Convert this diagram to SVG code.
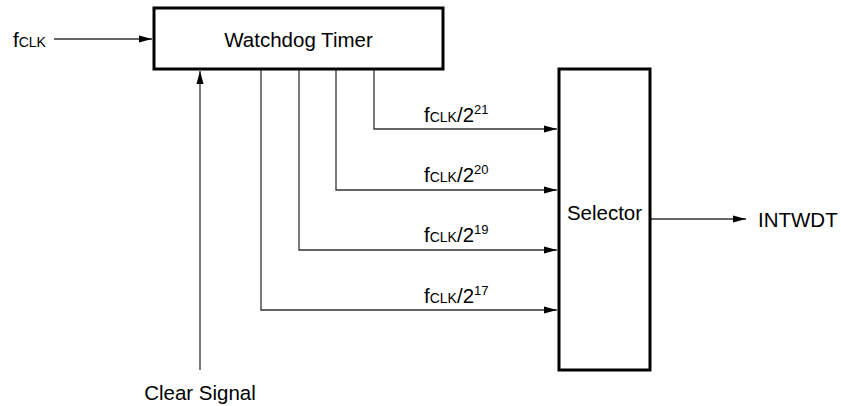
<svg xmlns="http://www.w3.org/2000/svg" width="841" height="406" viewBox="0 0 841 406">
<style>
.box{fill:#fff;stroke:#000;stroke-width:3}
.ln{fill:none;stroke:#333;stroke-width:1.3}
text{font-family:"Liberation Sans",Arial,sans-serif;font-size:20.5px;fill:#000}
.sub{font-size:14px}
.sup{font-size:13px}
</style>
<defs>
<marker id="ah" markerWidth="13" markerHeight="8" refX="13" refY="4" orient="auto" markerUnits="userSpaceOnUse">
<path d="M0,0.5 L13,4 L0,7.5 Z" fill="#000"/>
</marker>
</defs>
<g id="connectors">
<path class="ln" d="M54,39 H152" marker-end="url(#ah)"/>
<path class="ln" d="M200,370 V71" marker-end="url(#ah)"/>
<path class="ln" d="M374,70 V129 H557" marker-end="url(#ah)"/>
<path class="ln" d="M336,70 V190 H557" marker-end="url(#ah)"/>
<path class="ln" d="M299,70 V250 H557" marker-end="url(#ah)"/>
<path class="ln" d="M261,70 V310 H557" marker-end="url(#ah)"/>
<path class="ln" d="M651,219 H746" marker-end="url(#ah)"/>
</g>
<g id="watchdog">
<rect class="box" x="154" y="8" width="289" height="61"/>
<text x="298.5" y="47" text-anchor="middle">Watchdog Timer</text>
</g>
<g id="selector">
<rect class="box" x="559" y="69" width="91" height="301"/>
<text x="604.5" y="220" text-anchor="middle">Selector</text>
</g>
<g id="labels">
<text x="13" y="47">f<tspan class="sub">CLK</tspan></text>
<text x="200" y="400" text-anchor="middle">Clear Signal</text>
<text x="758" y="227">INTWDT</text>
<text x="424" y="122">f<tspan class="sub">CLK</tspan>/2<tspan class="sup" dy="-8">21</tspan></text>
<text x="424" y="182">f<tspan class="sub">CLK</tspan>/2<tspan class="sup" dy="-8">20</tspan></text>
<text x="424" y="242">f<tspan class="sub">CLK</tspan>/2<tspan class="sup" dy="-8">19</tspan></text>
<text x="424" y="303">f<tspan class="sub">CLK</tspan>/2<tspan class="sup" dy="-8">17</tspan></text>
</g>
</svg>
